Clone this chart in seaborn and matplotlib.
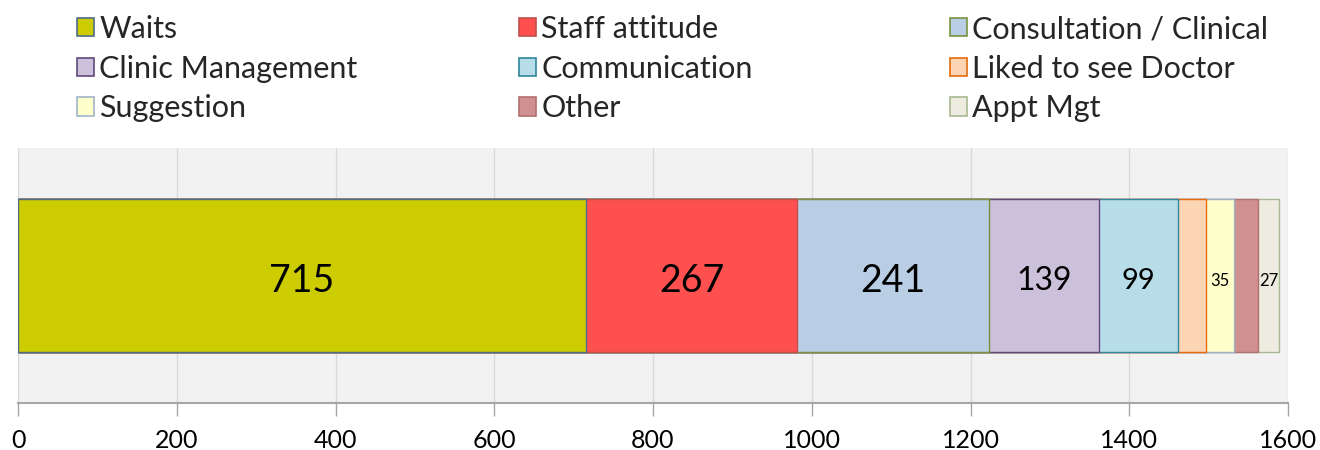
import matplotlib
matplotlib.use("Agg")
import matplotlib.pyplot as plt
import seaborn as sns
import pandas as pd
import numpy as np
from matplotlib.patches import Patch

categories = ["Waits", "Staff attitude", "Consultation / Clinical", "Clinic Management",
              "Communication", "Liked to see Doctor", "Suggestion", "Other", "Appt Mgt"]
counts = [715, 267, 241, 139, 99, 36, 35, 30, 27]
shown_labels = ["715", "267", "241", "139", "99", "", "35", "", "27"]
x_ticks = [0, 200, 400, 600, 800, 1000, 1200, 1400, 1600]

fill_colors = ["#CCCC00", "#FF5050", "#B9CDE5", "#CCC1DA", "#B7DEE8",
               "#FCD5B5", "#FFFFCC", "#D09090", "#EEECE1"]
edge_colors = ["#4F6B8A", "#C0504D", "#77933C", "#604A7B", "#31859C",
               "#E46C0A", "#A0B4C8", "#B07070", "#A8B890"]
label_sizes = [27, 27, 27, 23, 21, 12, 12, 12, 12]

sns.set_theme(style="white")
plt.rcParams["font.family"] = ["Lato", "DejaVu Sans"]

fig = plt.figure(figsize=(13.2, 4.5), dpi=100)
ax = fig.add_axes([18 / 1320, 1 - 403 / 450, (1288 - 18) / 1320, (403 - 148) / 450])
ax.set_facecolor("#F2F2F2")

cum = np.cumsum(counts)
for i in reversed(range(len(counts))):
    df = pd.DataFrame({"total": [cum[i]], "group": ["all"]})
    sns.barplot(data=df, x="total", y="group", orient="h", color=fill_colors[i],
                edgecolor=edge_colors[i], linewidth=1.0, saturation=1, width=0.6,
                errorbar=None, ax=ax)

for i, s in enumerate(shown_labels):
    if s:
        ax.text(cum[i] - counts[i] / 2, 0.02, s, ha="center", va="center",
                fontsize=label_sizes[i], color="#000000")

ax.set_xlim(0, 1600)
ax.set_ylim(0.5, -0.5)
ax.set_xticks(x_ticks)
ax.set_xticklabels([str(t) for t in x_ticks])
ax.set_yticks([])
ax.set_xlabel("")
ax.set_ylabel("")
ax.set_axisbelow(True)
ax.xaxis.grid(True, color="#D9D9D9", linewidth=1)
for side in ["top", "left", "right"]:
    ax.spines[side].set_visible(False)
ax.spines["bottom"].set_color("#A6A6A6")
ax.spines["bottom"].set_linewidth(1.5)
ax.tick_params(axis="x", bottom=True, length=9, width=1, color="#A6A6A6",
               labelsize=18, pad=10, labelcolor="#000000")

handles = [Patch(facecolor=f, edgecolor=e, linewidth=1.2) for f, e in zip(fill_colors, edge_colors)]
col_x = [77 / 1320, 519 / 1320, 950 / 1320]
for c in range(3):
    idx = [c, c + 3, c + 6]
    fig.legend([handles[k] for k in idx], [categories[k] for k in idx],
               loc="upper left", bbox_to_anchor=(col_x[c], 1 - 15 / 450),
               frameon=False, fontsize=22, borderpad=0, borderaxespad=0,
               handlelength=0.55, handleheight=0.55, handletextpad=0.18,
               labelspacing=0.38)

fig.savefig("out.png", dpi=100)
